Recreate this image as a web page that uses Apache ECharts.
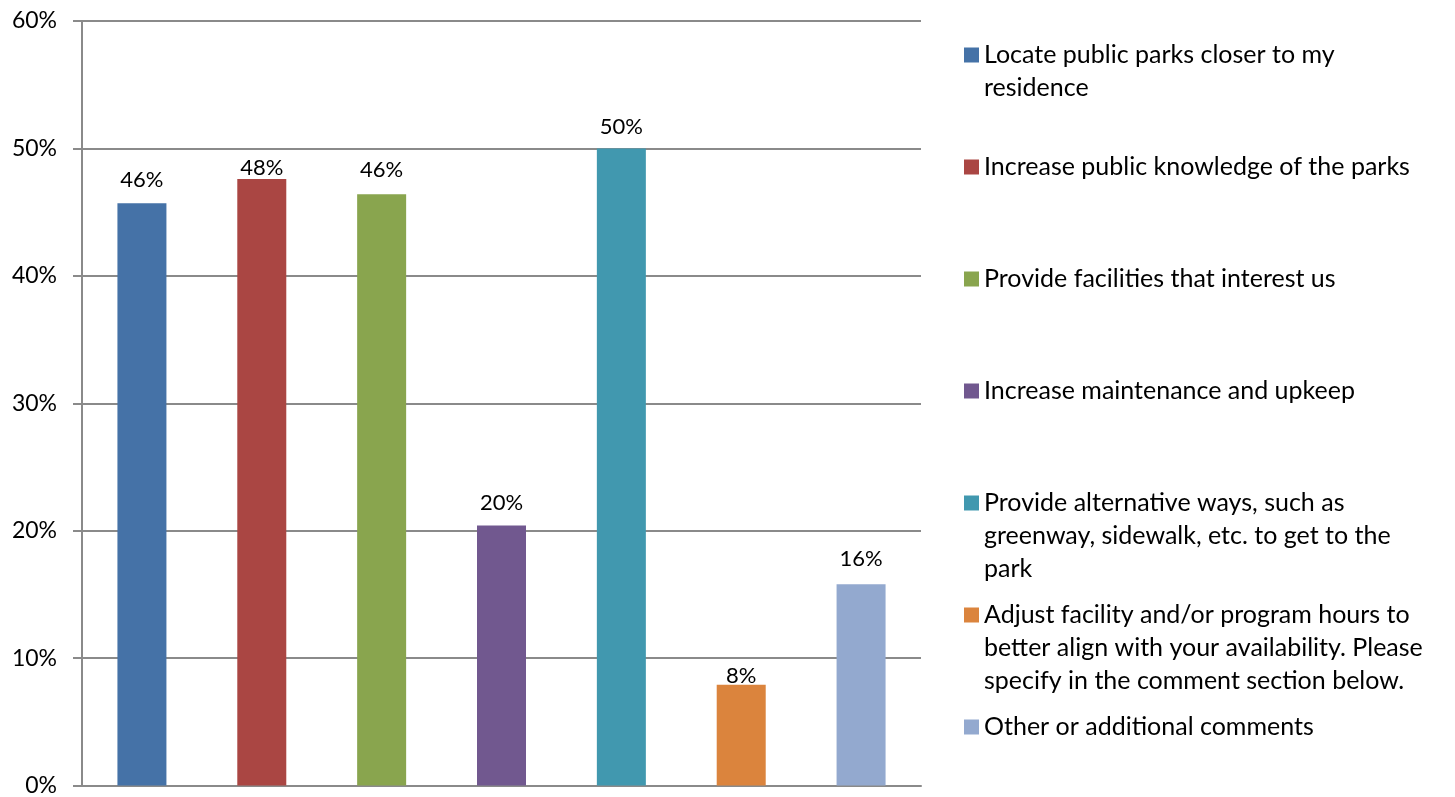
<!DOCTYPE html>
<html>
<head>
<meta charset="utf-8">
<title>Park access survey</title>
<script src="https://cdn.jsdelivr.net/npm/echarts@6/dist/echarts.min.js"></script>
<style>
  html, body { margin: 0; padding: 0; background: #fff; }
  #main { width: 1455px; height: 797px; }
</style>
</head>
<body>
<div id="main"></div>
<script>
// answers (legend text, with the same line breaks as the picture)
var answers = [
  "Locate public parks closer to my\nresidence",
  "Increase public knowledge of the parks",
  "Provide facilities that interest us",
  "Increase maintenance and upkeep",
  "Provide alternative ways, such as\ngreenway, sidewalk, etc. to get to the\npark",
  "Adjust facility and/or program hours to\nbetter align with your availability. Please\nspecify in the comment section below.",
  "Other or additional comments"
];
// share of respondents, %
var shares = [45.7, 47.6, 46.4, 20.4, 50.0, 7.9, 15.8];
var yTicks = [0, 10, 20, 30, 40, 50, 60];

// styles
var colors = ['#4572A7', '#AA4643', '#89A54E', '#71588F', '#4198AF', '#DB843D', '#93A9CF'];
var labelGap = [12, 0, 13, 12, 11, -2, 14];  // excel nudges labels off the gridlines
var FONT = 'Lato';
var LH = 33;          // legend line height
var legendStep = 112; // distance between legend entries

var chart = echarts.init(document.getElementById('main'));

// one series per answer so every bar gets its own legend entry
var series = [];
var legends = [];
for (var i = 0; i < answers.length; i++) {
  var name = answers[i];
  var d = answers.map(function () { return '-'; });
  d[i] = shares[i];
  series.push({
    name: name,
    type: 'bar',
    barWidth: 49,
    barGap: '-100%',
    itemStyle: { color: colors[i] },
    label: {
      show: true,
      position: 'top',
      distance: labelGap[i],
      color: '#000',
      fontFamily: FONT,
      fontSize: 22,
      formatter: function (p) { return Math.round(p.value) + '%'; }
    },
    data: d
  });

  var lines = name.split('\n');
  var cy = 55 + i * legendStep;
  var txt = { fontFamily: FONT, fontSize: 25, color: '#000', lineHeight: LH };
  // first line with the coloured square
  legends.push({
    left: 964, top: cy - LH / 2, padding: 0,
    itemWidth: 15, itemHeight: 15, icon: 'rect',
    selectedMode: false,
    data: [name],
    formatter: function (n) { return n.split('\n')[0]; },
    textStyle: txt
  });
  // wrapped lines underneath, no marker
  if (lines.length > 1) {
    legends.push({
      left: 964, top: cy + LH / 2, padding: 0,
      itemWidth: 15, itemHeight: 15, icon: 'rect',
      itemStyle: { opacity: 0 },
      selectedMode: false,
      data: [name],
      formatter: function (n) { return n.split('\n').slice(1).join('\n'); },
      textStyle: txt
    });
  }
}

var option = {
  animation: false,
  backgroundColor: '#fff',
  legend: legends,
  grid: { left: 82, right: 534, top: 21, bottom: 11, containLabel: false },
  xAxis: {
    type: 'category',
    data: answers,
    axisLine: { lineStyle: { color: '#8a8a8a', width: 2 } },
    axisTick: { show: false },
    axisLabel: { show: false }
  },
  yAxis: {
    type: 'value',
    min: yTicks[0],
    max: yTicks[yTicks.length - 1],
    interval: 10,
    axisLine: { show: true, lineStyle: { color: '#8a8a8a', width: 2 } },
    axisTick: { show: true, length: 9, lineStyle: { color: '#8a8a8a', width: 2 } },
    splitLine: { lineStyle: { color: '#8a8a8a', width: 2 } },
    axisLabel: {
      margin: 25,
      color: '#000',
      fontFamily: FONT,
      fontSize: 23,
      formatter: '{value}%'
    }
  },
  series: series
};
chart.setOption(option);
</script>
</body>
</html>
